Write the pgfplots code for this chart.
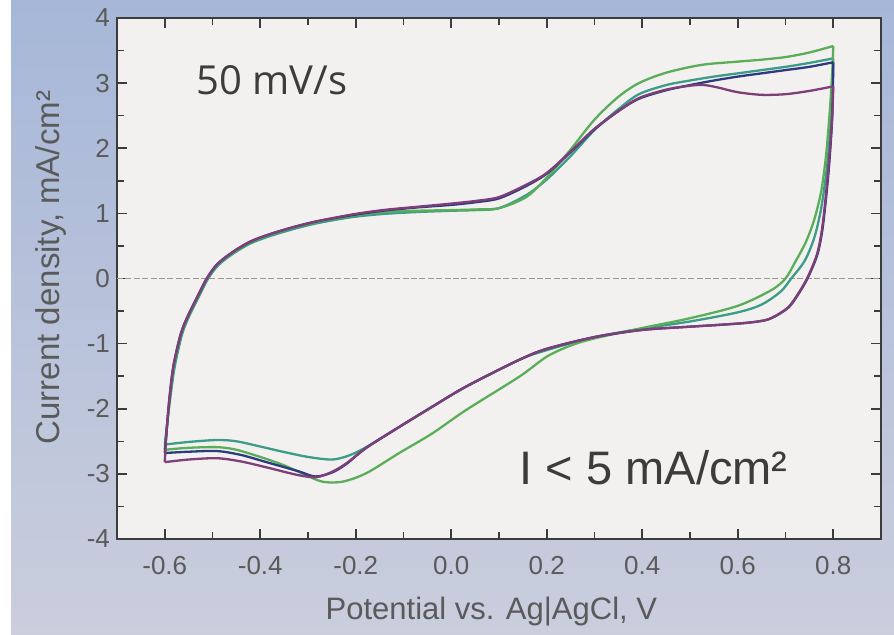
\documentclass[border=0pt]{standalone}
\usepackage{pgfplots}
\pgfplotsset{compat=1.18}
\usepackage{fontspec}
\setmainfont{Liberation Sans}
\newfontfamily\osans{Open Sans}
\definecolor{bgtop}{HTML}{A6B7D8}
\definecolor{bgbot}{HTML}{CACEDD}
\definecolor{plotbg}{HTML}{F3F1EF}
\definecolor{axcol}{HTML}{3C3C3C}
\definecolor{lblcol}{HTML}{5A5A5A}
\definecolor{cpurple}{HTML}{7E3F78}
\definecolor{cblue}{HTML}{2E3A80}
\definecolor{cteal}{HTML}{3C9C88}
\definecolor{cgreen}{HTML}{5AAE5A}
\definecolor{zerocol}{HTML}{9C978C}
\begin{document}
\begin{tikzpicture}[x=1pt,y=1pt]
\path[use as bounding box] (0,0) rectangle (447,317.5);
\shade[top color=bgtop, bottom color=bgbot] (0,0) rectangle (447,317.5);
\fill[white] (0,0) rectangle (5.5,317.5);
\begin{axis}[
  at={(58.5pt,48pt)}, anchor=south west,
  scale only axis, width=382pt, height=260.5pt,
  xmin=-0.7, xmax=0.9, ymin=-4, ymax=4,
  axis background/.style={fill=plotbg},
  axis line style={color=axcol, line width=1.2pt},
  xtick={-0.6,-0.4,-0.2,0,0.2,0.4,0.6,0.8},
  xticklabels={-0.6,-0.4,-0.2,0.0,0.2,0.4,0.6,0.8},
  ytick={-4,-3,-2,-1,0,1,2,3,4},
  yticklabels={-4,-3,-2,-1,0,1,2,3,4},
  minor xtick={-0.7,-0.5,-0.3,-0.1,0.1,0.3,0.5,0.7,0.9},
  minor ytick={-3.5,-2.5,-1.5,-0.5,0.5,1.5,2.5,3.5},
  tick align=inside, tick pos=both,
  major tick length=5pt, minor tick length=3.5pt,
  every tick/.style={color=axcol, line width=0.8pt},
  tick label style={font=\fontsize{13}{15}\selectfont, color=lblcol},
  xticklabel style={yshift=-5pt},
  every axis x label/.style={at={(axis description cs:0.49,0)}, yshift=-40.5pt, anchor=base},
  every axis y label/.style={at={(axis description cs:0,0.521)}, xshift=-28.5pt, rotate=90, anchor=base},
  xlabel={\fontsize{15.5}{18}\selectfont\color{lblcol}Potential vs. Ag|AgCl, V},
  ylabel={\fontsize{16.5}{19}\selectfont\color{lblcol}Current density, mA/cm²},
  clip=true,
]
\addplot[color=zerocol, line width=0.8pt, dash pattern=on 3pt off 1.2pt] coordinates {(-0.7,0) (0.9,0)};
% ---- teal ----
\addplot[color=cteal, line width=1.15pt, smooth, tension=0.5] coordinates {
(-0.600,-2.55) (-0.596,-2.30) (-0.589,-1.87) (-0.579,-1.35) (-0.563,-0.84) (-0.547,-0.55) (-0.530,-0.30) (-0.509,0.0)
(-0.487,0.21) (-0.455,0.39) (-0.42,0.54) (-0.38,0.65) (-0.33,0.76) (-0.28,0.85) (-0.21,0.94) (-0.144,0.99)
(-0.073,1.02) (0.0,1.04) (0.05,1.05) (0.10,1.08) (0.157,1.28) (0.20,1.52) (0.25,1.88) (0.30,2.28) (0.35,2.60)
(0.393,2.83) (0.45,2.97) (0.50,3.04) (0.55,3.10) (0.60,3.15) (0.65,3.20) (0.70,3.25) (0.75,3.31) (0.80,3.38)};
\addplot[color=cteal, line width=1.15pt, smooth, tension=0.5] coordinates {
(0.80,3.38) (0.798,2.8) (0.793,2.2) (0.785,1.6) (0.774,1.05) (0.76,0.62) (0.74,0.27) (0.712,0.0) (0.69,-0.2) (0.65,-0.40)
(0.60,-0.52) (0.50,-0.66) (0.40,-0.77) (0.30,-0.90) (0.20,-1.10) (0.142,-1.25) (0.031,-1.66) (-0.04,-1.97)
(-0.109,-2.28) (-0.178,-2.59) (-0.215,-2.72) (-0.25,-2.78) (-0.30,-2.74) (-0.353,-2.66) (-0.40,-2.58)
(-0.45,-2.50) (-0.49,-2.48) (-0.55,-2.51) (-0.60,-2.55)};
% ---- green ----
\addplot[color=cgreen, line width=1.15pt, smooth, tension=0.5] coordinates {
(-0.600,-2.63) (-0.597,-2.40) (-0.590,-1.88) (-0.581,-1.35) (-0.565,-0.84) (-0.549,-0.55) (-0.532,-0.30) (-0.511,0.0)
(-0.489,0.22) (-0.456,0.40) (-0.42,0.56) (-0.38,0.67) (-0.33,0.78) (-0.28,0.87) (-0.21,0.96) (-0.144,1.02)
(-0.073,1.04) (0.0,1.05) (0.05,1.06) (0.10,1.08) (0.157,1.25) (0.20,1.55) (0.25,1.98) (0.30,2.44)
(0.35,2.79) (0.393,3.00) (0.45,3.16) (0.524,3.28) (0.60,3.33) (0.65,3.36) (0.70,3.40) (0.75,3.47) (0.80,3.57)};
\addplot[color=cgreen, line width=1.15pt, smooth, tension=0.5] coordinates {
(0.80,3.57) (0.798,3.2) (0.793,2.6) (0.785,1.9) (0.775,1.35) (0.76,0.9) (0.742,0.55) (0.72,0.25) (0.70,0.0) (0.67,-0.18) (0.60,-0.42)
(0.50,-0.61) (0.40,-0.76) (0.30,-0.92) (0.25,-1.03) (0.20,-1.20) (0.142,-1.51) (0.031,-2.02) (-0.04,-2.38)
(-0.109,-2.68) (-0.178,-2.99) (-0.228,-3.12) (-0.27,-3.12) (-0.31,-3.00) (-0.353,-2.86) (-0.40,-2.74)
(-0.45,-2.63) (-0.49,-2.59) (-0.55,-2.60) (-0.60,-2.63)};
% ---- blue ----
\addplot[color=cblue, line width=1.15pt, smooth, tension=0.5] coordinates {
(-0.600,-2.68) (-0.597,-2.42) (-0.591,-1.90) (-0.582,-1.35) (-0.566,-0.84) (-0.550,-0.55) (-0.533,-0.30) (-0.512,0.0)
(-0.490,0.22) (-0.457,0.41) (-0.42,0.57) (-0.38,0.68) (-0.33,0.79) (-0.28,0.88) (-0.21,0.97) (-0.144,1.04)
(-0.073,1.09) (0.0,1.13) (0.05,1.17) (0.10,1.23) (0.157,1.42) (0.20,1.61) (0.25,1.94) (0.30,2.29) (0.35,2.57)
(0.393,2.76) (0.45,2.89) (0.50,2.97) (0.55,3.04) (0.60,3.10) (0.65,3.15) (0.70,3.20) (0.75,3.25) (0.80,3.32)};
\addplot[color=cblue, line width=1.15pt, smooth, tension=0.5] coordinates {
(0.80,3.32) (0.798,2.5) (0.791,1.71) (0.783,1.1) (0.776,0.69) (0.766,0.35) (0.746,0.0) (0.726,-0.25) (0.707,-0.44)
(0.681,-0.57) (0.658,-0.64) (0.62,-0.68) (0.566,-0.71) (0.50,-0.74) (0.40,-0.79) (0.30,-0.90) (0.20,-1.08)
(0.142,-1.25) (0.031,-1.66) (-0.04,-1.97) (-0.109,-2.28) (-0.178,-2.60) (-0.22,-2.85) (-0.25,-2.98)
(-0.285,-3.04) (-0.32,-2.96) (-0.387,-2.82) (-0.44,-2.71) (-0.49,-2.65) (-0.55,-2.66) (-0.60,-2.68)};
% ---- purple ----
\addplot[color=cpurple, line width=1.15pt, smooth, tension=0.5] coordinates {
(-0.600,-2.82) (-0.597,-2.45) (-0.591,-1.90) (-0.582,-1.35) (-0.566,-0.84) (-0.550,-0.55) (-0.533,-0.30) (-0.512,0.0)
(-0.490,0.22) (-0.457,0.41) (-0.42,0.57) (-0.38,0.68) (-0.33,0.79) (-0.28,0.88) (-0.21,0.98) (-0.144,1.05)
(-0.073,1.10) (0.0,1.15) (0.05,1.19) (0.10,1.25) (0.157,1.44) (0.20,1.62) (0.25,1.95) (0.30,2.30) (0.35,2.57)
(0.393,2.77) (0.45,2.90) (0.50,2.96) (0.53,2.97) (0.56,2.93) (0.60,2.86) (0.65,2.82) (0.70,2.83) (0.75,2.88) (0.80,2.95)};
\addplot[color=cpurple, line width=1.15pt, smooth, tension=0.5] coordinates {
(0.80,2.95) (0.797,2.4) (0.79,1.71) (0.782,1.1) (0.775,0.69) (0.765,0.35) (0.745,0.0) (0.725,-0.25) (0.706,-0.44)
(0.68,-0.57) (0.658,-0.64) (0.62,-0.68) (0.566,-0.71) (0.50,-0.74) (0.40,-0.79) (0.30,-0.90) (0.20,-1.08)
(0.142,-1.25) (0.031,-1.66) (-0.04,-1.97) (-0.109,-2.28) (-0.178,-2.60) (-0.22,-2.84) (-0.25,-2.97)
(-0.282,-3.05) (-0.32,-3.02) (-0.387,-2.90) (-0.44,-2.81) (-0.49,-2.76) (-0.55,-2.78) (-0.60,-2.82)};
\node[anchor=base, inner sep=0pt, color=axcol] at (axis cs:-0.376,2.82) {\osans\fontsize{20}{24}\selectfont 50 mV/s};
\node[anchor=base, inner sep=0pt, color=axcol] at (axis cs:0.424,-3.17) {\fontsize{23.5}{28}\selectfont I < 5 mA/cm²};
\end{axis}
\end{tikzpicture}
\end{document}
